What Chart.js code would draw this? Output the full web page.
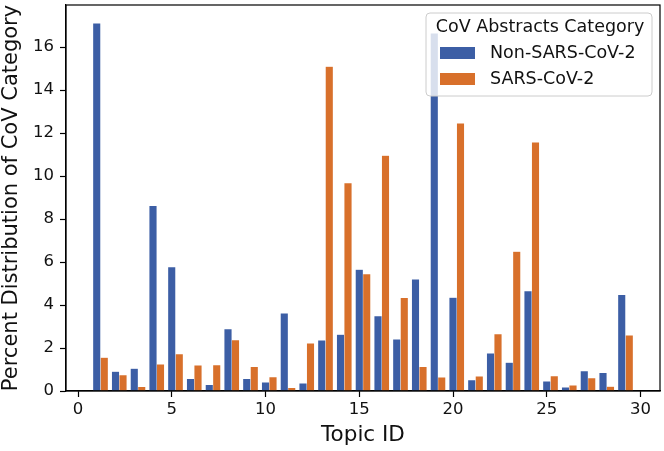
<!DOCTYPE html>
<html>
<head>
<meta charset="utf-8">
<script src="https://cdn.jsdelivr.net/npm/chart.js@4/dist/chart.umd.min.js"></script>
<style>
  html, body { margin: 0; padding: 0; background: #fff; }
  #wrap { width: 664px; height: 451px; }
</style>
</head>
<body>
<div id="wrap"><canvas id="topicChart" width="664" height="451"></canvas></div>
<script>
// topic ids and percent share per CoV category
const topicIds = [1, 2, 3, 4, 5, 6, 7, 8, 9, 10, 11, 12, 13, 14, 15, 16, 17, 18, 19, 20, 21, 22, 23, 24, 25, 26, 27, 28, 29];
const nonSarsCov2 = [17.11, 0.90, 1.04, 8.61, 5.76, 0.57, 0.29, 2.88, 0.57, 0.40, 3.61, 0.36, 2.36, 2.63, 5.65,
                     3.49, 2.40, 5.20, 16.64, 4.35, 0.51, 1.75, 1.32, 4.65, 0.45, 0.17, 0.93, 0.84, 4.48];
const sarsCov2 = [1.55, 0.74, 0.19, 1.24, 1.72, 1.19, 1.21, 2.37, 1.13, 0.65, 0.15, 2.22, 15.10, 9.67, 5.44,
                  10.95, 4.34, 1.12, 0.64, 12.45, 0.68, 2.65, 6.49, 11.57, 0.70, 0.26, 0.60, 0.20, 2.59];
const seriesNames = ['Non-SARS-CoV-2', 'SARS-CoV-2'];
const seriesColors = ['#3c5ea5', '#d8702b'];
const legendTitle = 'CoV Abstracts Category';
const xTicks = [0, 5, 10, 15, 20, 25, 30];
const yTicks = [0, 2, 4, 6, 8, 10, 12, 14, 16];

const barWidth = 0.4; // second series sits one bar width to the right
const FONT = 'DejaVu Sans';

// frame around the plot area, like matplotlib spines
const framePlugin = {
    id: 'frame',
    afterDatasetsDraw(chart) {
        const a = chart.chartArea;
        const ctx = chart.ctx;
        ctx.save();
        ctx.strokeStyle = '#000';
        ctx.lineWidth = 1.2;
        ctx.strokeRect(a.left, a.top, a.right - a.left, a.bottom - a.top);
        ctx.restore();
    }
};

// legend drawn on top of the bars
const legendPlugin = {
    id: 'legendOverlay',
    afterDraw(chart) {
        const a = chart.chartArea;
        const ctx = chart.ctx;
        const w = 226, h = 83;
        const x = a.right - 8 - w;
        const y = a.top + 8;
        ctx.save();
        ctx.beginPath();
        ctx.roundRect(x, y, w, h, 4);
        ctx.fillStyle = 'rgba(255,255,255,0.8)';
        ctx.fill();
        ctx.strokeStyle = '#cccccc';
        ctx.lineWidth = 1;
        ctx.stroke();

        ctx.fillStyle = '#111';
        ctx.font = '17.5px "' + FONT + '"';
        ctx.textBaseline = 'middle';
        ctx.textAlign = 'center';
        ctx.fillText(legendTitle, x + w / 2 + 1, y + 14);

        ctx.textAlign = 'left';
        chart.data.datasets.forEach((ds, i) => {
            const top = y + 34 + i * 26;
            ctx.fillStyle = ds.backgroundColor;
            ctx.fillRect(x + 14, top, 35, 12);
            ctx.fillStyle = '#111';
            ctx.fillText(ds.label, x + 64, top + 6);
        });
        ctx.restore();
    }
};

const ctx = document.getElementById('topicChart').getContext('2d');
const chart = new Chart(ctx, {
    type: 'bar',
    data: {
        datasets: [{
            label: seriesNames[0],
            data: topicIds.map((id, i) => ({ x: id, y: nonSarsCov2[i] })),
            backgroundColor: seriesColors[0],
            borderColor: 'rgba(255,255,255,0.25)',
            borderWidth: 0.5
        }, {
            label: seriesNames[1],
            data: topicIds.map((id, i) => ({ x: id + barWidth, y: sarsCov2[i] })),
            backgroundColor: seriesColors[1],
            borderColor: 'rgba(255,255,255,0.25)',
            borderWidth: 0.5
        }]
    },
    options: {
        responsive: false,
        animation: false,
        grouped: false,
        barPercentage: 1,
        categoryPercentage: 1,
        layout: { padding: { top: 5, right: 4, left: 0, bottom: 0 } },
        plugins: {
            legend: { display: false },
            tooltip: { enabled: false }
        },
        scales: {
            x: {
                type: 'linear',
                offset: false,
                min: -0.64,
                max: 31.04,
                afterBuildTicks: s => { s.ticks = xTicks.map(v => ({ value: v })); },
                afterFit: s => { s.height = 60; s.paddingLeft = 0; s.paddingRight = 0; },
                grid: { offset: false, drawOnChartArea: false, drawTicks: true, tickLength: 6, tickColor: '#000', tickWidth: 1.2 },
                border: { color: '#000', width: 1.2 },
                ticks: { color: '#111', font: { family: FONT, size: 16.5 }, padding: 3, maxRotation: 0 },
                title: { display: true, text: 'Topic ID', color: '#111', font: { family: FONT, size: 21.5 }, padding: { top: 0, bottom: 3 } }
            },
            y: {
                min: 0,
                max: 17.96,
                afterBuildTicks: s => { s.ticks = yTicks.map(v => ({ value: v })); },
                afterFit: s => { s.width = 66; s.paddingTop = 0; s.paddingBottom = 0; },
                grid: { drawOnChartArea: false, drawTicks: true, tickLength: 6, tickColor: '#000', tickWidth: 1.2 },
                border: { color: '#000', width: 1.2 },
                ticks: { color: '#111', font: { family: FONT, size: 16.5 }, padding: 6 },
                title: { display: true, text: 'Percent Distribution of CoV Category', color: '#111', font: { family: FONT, size: 21, lineHeight: 1.1 }, padding: { top: 0, bottom: 0 } }
            }
        }
    },
    plugins: [framePlugin, legendPlugin]
});
</script>
</body>
</html>
